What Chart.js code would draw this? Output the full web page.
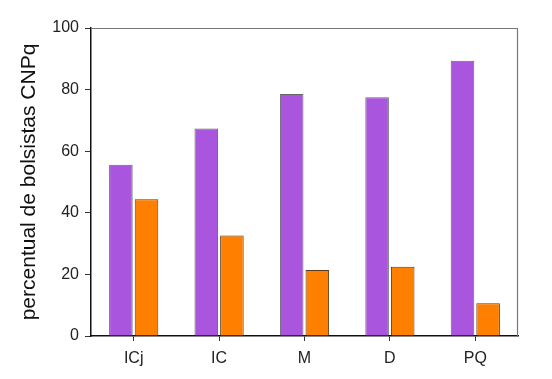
<!DOCTYPE html>
<html>
<head>
<meta charset="utf-8">
<script src="https://cdn.jsdelivr.net/npm/chart.js@4.4.0/dist/chart.umd.min.js"></script>
<style>
  html, body { margin: 0; padding: 0; background: #fff; }
  #wrap { width: 552px; height: 379px; position: relative; }
</style>
</head>
<body>
<div id="wrap"><canvas id="barChart"></canvas></div>
<script>
// categories and values
const categories = ['ICj', 'IC', 'M', 'D', 'PQ'];
const purpleValues = [55.6, 67.4, 78.6, 77.5, 89.4];
const orangeValues = [44.4, 32.6, 21.4, 22.5, 10.6];
const yTicks = [0, 20, 40, 60, 80, 100];

// draws the grey box line on top and right of the plot
const frameBox = {
    id: 'frameBox',
    afterDraw(chart) {
        const a = chart.chartArea;
        const ctx = chart.ctx;
        ctx.save();
        ctx.strokeStyle = '#777';
        ctx.lineWidth = 1.2;
        ctx.beginPath();
        ctx.moveTo(a.left, a.top + 0.5);
        ctx.lineTo(a.right - 0.5, a.top + 0.5);
        ctx.lineTo(a.right - 0.5, a.bottom);
        ctx.stroke();
        ctx.restore();
    }
};

document.addEventListener('DOMContentLoaded', function() {
    const ctx = document.getElementById('barChart');

    new Chart(ctx.getContext('2d'), {
        type: 'bar',
        data: {
            labels: categories,
            datasets: [{
                data: purpleValues,
                backgroundColor: '#AA55DD',
                borderColor: '#666',
                borderWidth: 1,
                categoryPercentage: 0.6,
                barPercentage: 0.92
            }, {
                data: orangeValues,
                backgroundColor: '#FF8000',
                borderColor: '#5a3a1a',
                borderWidth: 1,
                categoryPercentage: 0.6,
                barPercentage: 0.92
            }]
        },
        options: {
            responsive: true,
            maintainAspectRatio: false,
            animation: false,
            layout: {
                padding: { top: 28, right: 34, left: 0, bottom: 0 }
            },
            plugins: {
                legend: { display: false },
                tooltip: { enabled: false }
            },
            scales: {
                x: {
                    grid: {
                        display: true,
                        offset: false,
                        drawOnChartArea: false,
                        tickLength: 5,
                        color: '#333'
                    },
                    border: { color: '#111', width: 1.5 },
                    ticks: {
                        color: '#222',
                        padding: 8,
                        font: { family: 'Liberation Sans, Arial', size: 16 }
                    },
                    afterFit: function(scale) { scale.height = 43; }
                },
                y: {
                    min: 0,
                    max: 100,
                    afterBuildTicks: function(scale) {
                        scale.ticks = yTicks.map(function(v) { return { value: v }; });
                    },
                    grid: {
                        display: true,
                        drawOnChartArea: false,
                        tickLength: 6,
                        color: '#333'
                    },
                    border: { color: '#111', width: 1.5 },
                    ticks: {
                        color: '#222',
                        padding: 6,
                        font: { family: 'Liberation Sans, Arial', size: 16 }
                    },
                    title: {
                        display: true,
                        text: 'percentual de bolsistas CNPq',
                        color: '#111',
                        padding: { top: 17, bottom: 0 },
                        font: { family: 'Liberation Sans, Arial', size: 21 }
                    },
                    afterFit: function(scale) { scale.width = 91; }
                }
            }
        },
        plugins: [frameBox]
    });
});
</script>
</body>
</html>
